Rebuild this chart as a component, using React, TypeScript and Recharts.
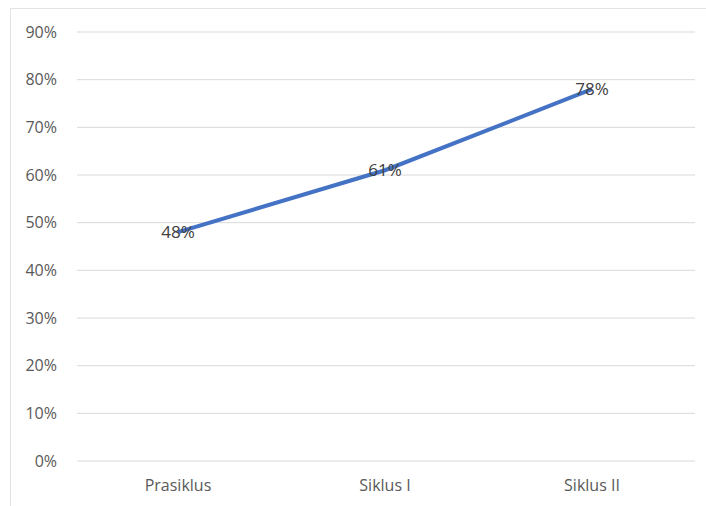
import React from "react";
import { LineChart, Line, XAxis, YAxis, CartesianGrid, LabelList } from "recharts";

const categories = ["Prasiklus", "Siklus I", "Siklus II"];
const values = [48, 61, 78];
const yTicks = [0, 10, 20, 30, 40, 50, 60, 70, 80, 90];

const data = categories.map((name, i) => ({ name, value: values[i] }));

const font = "'Open Sans', 'Liberation Sans', sans-serif";

export default function App() {
  return (
    <div
      style={{
        position: "absolute",
        left: 0,
        top: 0,
        width: 706,
        height: 506,
        overflow: "hidden",
        background: "#fff",
        fontFamily: font,
      }}
    >
      <div
        style={{
          position: "absolute",
          left: 10,
          top: 8,
          width: 720,
          height: 520,
          border: "1px solid #e3e3e3",
        }}
      />
      <LineChart
        width={706}
        height={506}
        data={data}
        margin={{ top: 32, right: 11, bottom: 15, left: 0 }}
      >
        <CartesianGrid vertical={false} stroke="#d9d9d9" />
        <XAxis
          dataKey="name"
          axisLine={false}
          tickLine={false}
          height={30}
          tickMargin={13}
          padding={{ left: 101, right: 103 }}
          tick={{ fill: "#595959", fontSize: 16, fontFamily: font }}
        />
        <YAxis
          width={77}
          domain={[0, 90]}
          ticks={yTicks}
          axisLine={false}
          tickLine={false}
          tickMargin={14}
          tickFormatter={(v: number) => `${v}%`}
          tick={{ fill: "#595959", fontSize: 16, fontFamily: font }}
        />
        <Line
          dataKey="value"
          stroke="#4472C4"
          strokeWidth={4}
          dot={false}
          isAnimationActive={false}
        >
          <LabelList
            dataKey="value"
            position="center"
            formatter={(v: number) => `${v}%`}
            fill="#404040"
            fontSize={17}
            fontFamily={font}
          />
        </Line>
      </LineChart>
    </div>
  );
}
